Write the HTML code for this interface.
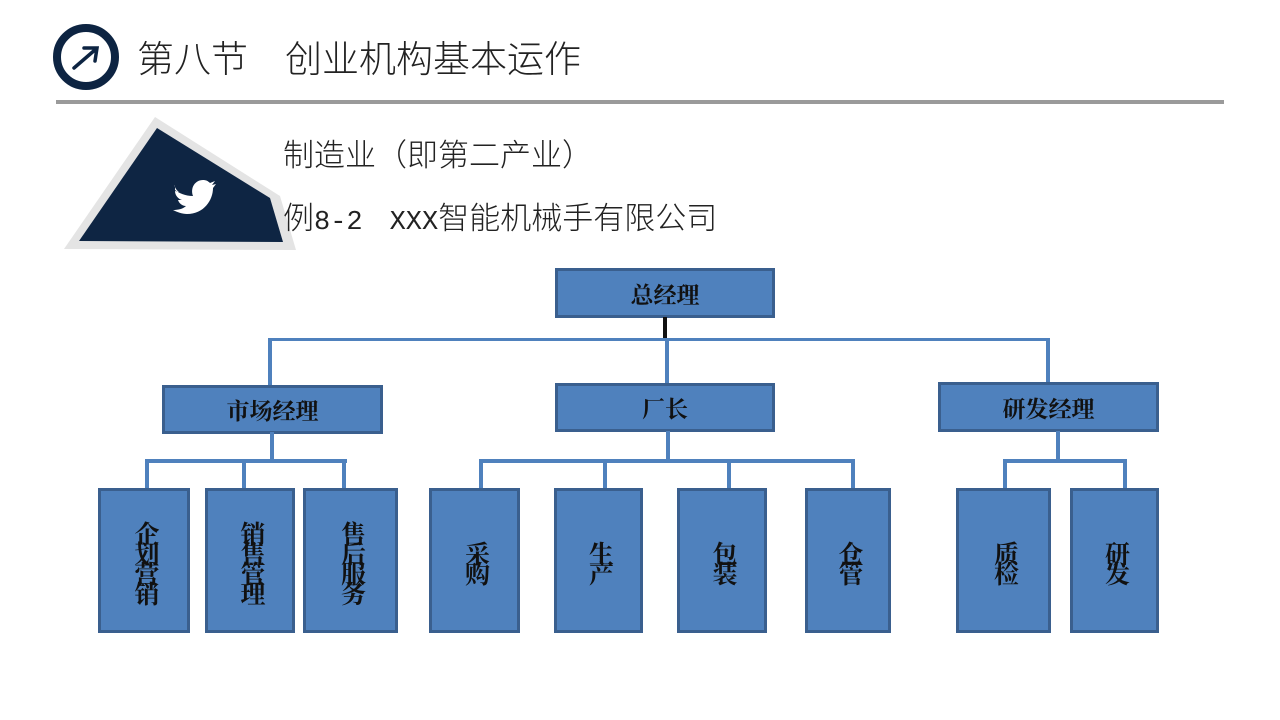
<!DOCTYPE html>
<html><head><meta charset="utf-8"><style>
body{margin:0;width:1280px;height:720px;background:#fff;position:relative;overflow:hidden;font-family:"Liberation Serif","Noto Serif CJK SC",serif}
.a{position:absolute}
.b{position:absolute;background:#4f81bd;border:3px solid #3a5f8e;box-sizing:border-box;display:flex;align-items:center;justify-content:center;font-weight:bold;color:#111;font-size:23px;font-family:"Liberation Serif","Noto Serif CJK SC",serif}
.v{writing-mode:vertical-rl;font-size:25px;line-height:26px;letter-spacing:-5px}
.l{position:absolute;background:#4f81bd}
.t{font-family:"Liberation Mono","Noto Sans CJK SC",sans-serif;color:#222;white-space:nowrap}
</style></head><body>
<svg class="a" style="left:0;top:0" width="320" height="260">
<circle cx="86" cy="57" r="29" fill="none" stroke="#0d2442" stroke-width="8"/>
<path d="M74 68 L96 49 M84 48 L97 48 L95 61" fill="none" stroke="#0d2442" stroke-width="3.5" stroke-linecap="round"/>
<polygon points="155,117 280,196 296,250 64,249" fill="#e4e4e4"/>
<polygon points="157,128 270,198 283,242 79,241" fill="#0e2543"/>
<path d="M175 190 c4 3 10 6 18 6 c-3 -8 2 -16 10 -16 c3 0 5 1 7 3 l5 -2 l-3 4 l4 -1 l-3 4 c0 12 -9 26 -26 26 c-5 0 -10 -2 -14 -4 c5 0 10 -1 13 -4 c-4 0 -7 -3 -8 -6 l4 0 c-4 -1 -7 -5 -7 -9 l4 1 c-3 -2 -5 -6 -4 -7z" fill="#fff"/>
</svg>
<div class="a t" style="left:137px;top:33px;font-size:37px;line-height:46px;font-family:'Noto Sans CJK SC',sans-serif;font-weight:300">第八节　创业机构基本运作</div>
<div class="a" style="left:56px;top:100px;width:1168px;height:4px;background:#9a9a9a"></div>
<div class="a t" style="left:283px;top:133px;font-size:31px;line-height:40px;font-family:'Noto Sans CJK SC',sans-serif;font-weight:300">制造业（即第二产业）</div>
<div class="a t" style="left:283px;top:196px;font-size:31px;line-height:40px"><span style="font-family:'Noto Sans CJK SC',sans-serif;font-weight:300">例</span><span style="font-size:27px">8-2　XXX</span><span style="font-family:'Noto Sans CJK SC',sans-serif;font-weight:300">智能机械手有限公司</span></div>

<div class="b" style="left:555px;top:268px;width:220px;height:50px">总经理</div>
<div class="a" style="left:663px;top:317px;width:4px;height:22px;background:#111"></div>
<div class="l" style="left:269px;top:338px;width:781px;height:3px"></div>
<div class="l" style="left:268px;top:338px;width:4px;height:48px"></div>
<div class="l" style="left:665px;top:338px;width:4px;height:46px"></div>
<div class="l" style="left:1046px;top:338px;width:4px;height:45px"></div>

<div class="b" style="left:162px;top:385px;width:221px;height:49px">市场经理</div>
<div class="b" style="left:555px;top:383px;width:220px;height:49px">厂长</div>
<div class="b" style="left:938px;top:382px;width:221px;height:50px">研发经理</div>

<div class="l" style="left:270px;top:432px;width:4px;height:29px"></div>
<div class="l" style="left:145px;top:459px;width:202px;height:4px"></div>
<div class="l" style="left:145px;top:459px;width:4px;height:30px"></div>
<div class="l" style="left:242px;top:459px;width:4px;height:30px"></div>
<div class="l" style="left:342px;top:459px;width:4px;height:30px"></div>

<div class="l" style="left:666px;top:431px;width:4px;height:30px"></div>
<div class="l" style="left:479px;top:459px;width:375px;height:4px"></div>
<div class="l" style="left:479px;top:459px;width:4px;height:30px"></div>
<div class="l" style="left:603px;top:459px;width:4px;height:30px"></div>
<div class="l" style="left:727px;top:459px;width:4px;height:30px"></div>
<div class="l" style="left:851px;top:459px;width:4px;height:30px"></div>

<div class="l" style="left:1056px;top:431px;width:4px;height:30px"></div>
<div class="l" style="left:1003px;top:459px;width:124px;height:4px"></div>
<div class="l" style="left:1003px;top:459px;width:4px;height:30px"></div>
<div class="l" style="left:1123px;top:459px;width:4px;height:30px"></div>

<div class="b" style="left:98px;top:488px;width:92px;height:145px"><span class="v">企划营销</span></div>
<div class="b" style="left:205px;top:488px;width:90px;height:145px"><span class="v">销售管理</span></div>
<div class="b" style="left:303px;top:488px;width:95px;height:145px"><span class="v">售后服务</span></div>
<div class="b" style="left:429px;top:488px;width:91px;height:145px"><span class="v">采购</span></div>
<div class="b" style="left:554px;top:488px;width:89px;height:145px"><span class="v">生产</span></div>
<div class="b" style="left:677px;top:488px;width:90px;height:145px"><span class="v">包装</span></div>
<div class="b" style="left:805px;top:488px;width:86px;height:145px"><span class="v">仓管</span></div>
<div class="b" style="left:956px;top:488px;width:95px;height:145px"><span class="v">质检</span></div>
<div class="b" style="left:1070px;top:488px;width:89px;height:145px"><span class="v">研发</span></div>
</body></html>
